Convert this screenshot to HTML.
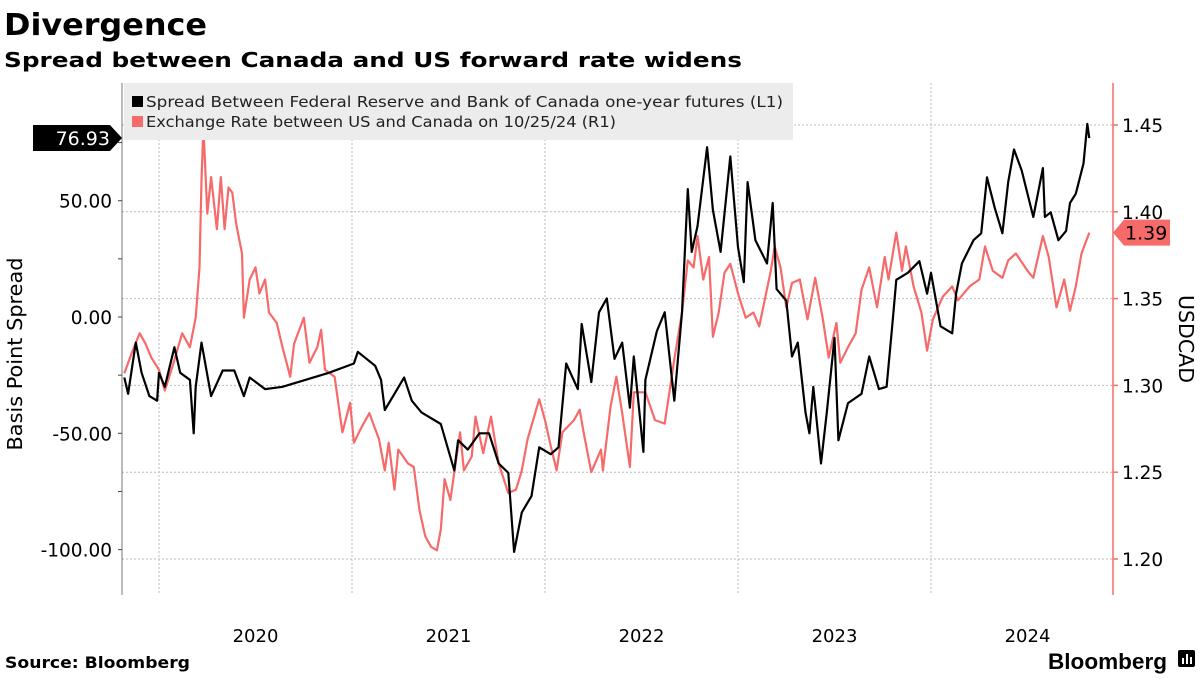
<!DOCTYPE html>
<html><head><meta charset="utf-8">
<style>
html,body{margin:0;padding:0;background:#fff;}
body{width:1200px;height:675px;overflow:hidden;font-family:"DejaVu Sans","Liberation Sans",sans-serif;}
</style></head>
<body>
<svg id="chart" width="1200" height="675" xmlns="http://www.w3.org/2000/svg" font-family="DejaVu Sans, Liberation Sans, sans-serif">
  <text x="4" y="35" font-size="30" font-weight="bold" fill="#000" textLength="203" lengthAdjust="spacingAndGlyphs">Divergence</text>
  <text x="4" y="67" font-size="20" font-weight="bold" fill="#000" textLength="738" lengthAdjust="spacingAndGlyphs">Spread between Canada and US forward rate widens</text>
  <g id="grid"></g>
  <g id="axes"></g>
  <g id="series"></g>
  <g>
    <rect x="124" y="83" width="669" height="57" fill="#ececec"/>
    <g>
      <rect x="132" y="96" width="11" height="11" fill="#000"/>
      <text x="146" y="107" font-size="15" fill="#222" textLength="637" lengthAdjust="spacingAndGlyphs">Spread Between Federal Reserve and Bank of Canada one-year futures (L1)</text>
    </g>
    <g>
      <rect x="132" y="116" width="11" height="11" fill="#f76a6a"/>
      <text x="146" y="127" font-size="15" fill="#222" textLength="470" lengthAdjust="spacingAndGlyphs">Exchange Rate between US and Canada on 10/25/24 (R1)</text>
    </g>
  </g>
  <text transform="translate(22,354) rotate(-90)" text-anchor="middle" font-size="20" fill="#000" textLength="193" lengthAdjust="spacingAndGlyphs">Basis Point Spread</text>
  <text transform="translate(1179,339) rotate(90)" text-anchor="middle" font-size="20" fill="#000" textLength="88" lengthAdjust="spacingAndGlyphs">USDCAD</text>
  <text x="5" y="668" font-size="16" font-weight="bold" fill="#000" textLength="185" lengthAdjust="spacingAndGlyphs">Source: Bloomberg</text>
  <text x="1048" y="669" font-size="22" font-weight="bold" fill="#000" font-family="Liberation Sans, sans-serif" textLength="119" lengthAdjust="spacingAndGlyphs">Bloomberg</text>
  <g>
    <rect x="1178" y="650" width="17" height="17" rx="2" fill="#000"/>
    <rect x="1182" y="658" width="2" height="6" fill="#fff"/>
    <rect x="1186" y="654" width="2" height="10" fill="#fff"/>
    <rect x="1190" y="657" width="2" height="7" fill="#fff"/>
  </g>
</svg>
<script>
const spreadDates = [2019.82,2019.84,2019.88,2019.91,2019.95,2019.99,2020.00,2020.03,2020.08,2020.11,2020.16,2020.18,2020.19,2020.22,2020.27,2020.33,2020.39,2020.44,2020.47,2020.55,2020.64,2020.76,2020.88,2021.01,2021.03,2021.12,2021.15,2021.17,2021.22,2021.27,2021.31,2021.36,2021.46,2021.53,2021.55,2021.60,2021.66,2021.71,2021.76,2021.81,2021.84,2021.88,2021.93,2021.97,2022.03,2022.07,2022.11,2022.17,2022.19,2022.24,2022.28,2022.32,2022.36,2022.40,2022.44,2022.46,2022.51,2022.52,2022.58,2022.62,2022.67,2022.71,2022.74,2022.76,2022.79,2022.84,2022.87,2022.91,2022.96,2023.00,2023.03,2023.05,2023.09,2023.15,2023.18,2023.20,2023.25,2023.28,2023.31,2023.35,2023.37,2023.39,2023.43,2023.46,2023.50,2023.52,2023.57,2023.64,2023.68,2023.73,2023.77,2023.80,2023.82,2023.88,2023.94,2023.98,2024.00,2024.05,2024.11,2024.13,2024.16,2024.22,2024.26,2024.29,2024.33,2024.37,2024.40,2024.43,2024.47,2024.53,2024.58,2024.59,2024.62,2024.66,2024.70,2024.72,2024.75,2024.79,2024.81,2024.82];
const spreadValues = [-26,-33,-11,-24,-34,-36,-24,-30,-13,-24,-27,-50,-30,-11,-34,-23,-23,-34,-26,-31,-30,-27,-24,-20,-15,-21,-27,-40,-33,-26,-36,-41,-46,-66,-53,-57,-50,-50,-63,-67,-101,-84,-77,-56,-59,-56,-20,-31,-3,-28,2,8,-18,-11,-39,-17,-58,-27,-6,2,-36,2,55,28,39,73,46,28,69,30,15,58,33,23,49,12,7,-17,-11,-41,-50,-30,-63,-41,-9,-53,-37,-33,-17,-31,-30,-3,16,19,24,10,19,-4,-7,10,23,33,36,60,47,36,58,72,63,43,64,43,45,33,37,49,53,66,83,76.93];
const fxDates = [2019.82,2019.86,2019.90,2019.93,2019.96,2020.00,2020.03,2020.07,2020.12,2020.16,2020.19,2020.21,2020.22,2020.23,2020.25,2020.27,2020.30,2020.32,2020.34,2020.36,2020.38,2020.40,2020.43,2020.44,2020.47,2020.50,2020.52,2020.55,2020.57,2020.61,2020.64,2020.68,2020.70,2020.75,2020.78,2020.82,2020.84,2020.86,2020.91,2020.95,2020.99,2021.01,2021.05,2021.09,2021.14,2021.17,2021.19,2021.22,2021.24,2021.29,2021.32,2021.35,2021.38,2021.41,2021.44,2021.46,2021.48,2021.51,2021.53,2021.56,2021.58,2021.62,2021.64,2021.68,2021.72,2021.76,2021.81,2021.85,2021.88,2021.91,2021.97,2022.00,2022.03,2022.06,2022.09,2022.15,2022.18,2022.20,2022.24,2022.29,2022.30,2022.34,2022.37,2022.40,2022.44,2022.46,2022.52,2022.57,2022.62,2022.67,2022.71,2022.74,2022.77,2022.79,2022.82,2022.85,2022.87,2022.90,2022.93,2022.96,2023.00,2023.04,2023.08,2023.11,2023.17,2023.19,2023.22,2023.25,2023.28,2023.32,2023.36,2023.40,2023.44,2023.47,2023.51,2023.53,2023.57,2023.61,2023.64,2023.68,2023.72,2023.76,2023.78,2023.82,2023.85,2023.87,2023.91,2023.95,2023.98,2024.01,2024.06,2024.11,2024.14,2024.20,2024.25,2024.28,2024.32,2024.37,2024.40,2024.44,2024.50,2024.53,2024.58,2024.61,2024.65,2024.69,2024.72,2024.75,2024.78,2024.82];
const fxValues = [1.307,1.319,1.330,1.324,1.316,1.309,1.297,1.311,1.330,1.322,1.339,1.368,1.418,1.449,1.399,1.420,1.390,1.420,1.390,1.414,1.411,1.393,1.376,1.339,1.361,1.368,1.353,1.361,1.342,1.336,1.322,1.305,1.324,1.339,1.313,1.322,1.332,1.309,1.305,1.273,1.290,1.267,1.276,1.284,1.269,1.251,1.267,1.240,1.263,1.255,1.253,1.228,1.213,1.207,1.205,1.217,1.246,1.234,1.250,1.273,1.251,1.259,1.282,1.261,1.282,1.255,1.238,1.240,1.251,1.269,1.292,1.280,1.265,1.251,1.273,1.280,1.286,1.273,1.250,1.263,1.251,1.288,1.305,1.284,1.253,1.296,1.296,1.280,1.278,1.315,1.342,1.372,1.368,1.386,1.361,1.374,1.328,1.342,1.365,1.370,1.353,1.339,1.342,1.334,1.366,1.380,1.368,1.345,1.359,1.361,1.338,1.362,1.338,1.316,1.336,1.313,1.322,1.330,1.355,1.368,1.345,1.374,1.361,1.388,1.366,1.380,1.357,1.342,1.320,1.338,1.351,1.357,1.349,1.357,1.361,1.380,1.366,1.362,1.372,1.376,1.366,1.362,1.386,1.374,1.345,1.361,1.343,1.357,1.376,1.388];
const leftTicks = [50, 0, -50, -100];
const leftTickLabels = ["50.00","0.00","-50.00","-100.00"];
const rightTicks = [1.45,1.40,1.35,1.30,1.25,1.20];
const rightTickLabels = ["1.45","1.40","1.35","1.30","1.25","1.20"];
const yearBounds = [2020,2021,2022,2023,2024];
const yearLabels = ["2020","2021","2022","2023","2024"];
const lastSpreadLabel = "76.93";
const lastFxLabel = "1.39";

const NS = "http://www.w3.org/2000/svg";
const X0 = 122, X1 = 1113, YT = 83, YB = 595;
function xScale(t){ return 159 + (t - 2020) * 193; }
function yLeft(v){ return 317 - v * (116.3/50); }
function yRight(v){ return 559 - (v - 1.20) * (86.8/0.05); }
function mk(tag, attrs, parent){
  const el = document.createElementNS(NS, tag);
  for (const k in attrs) el.setAttribute(k, attrs[k]);
  parent.appendChild(el);
  return el;
}
const grid = document.getElementById('grid');
const axes = document.getElementById('axes');
const series = document.getElementById('series');

rightTicks.forEach((v) => {
  const y = yRight(v);
  const l = mk('line', {x1:X0, x2:X1, y1:y, y2:y, stroke:'#bbb', 'stroke-width':1, 'stroke-dasharray':'2,2'}, grid);
  
  
});
yearBounds.forEach((t) => {
  const x = xScale(t);
  const l = mk('line', {x1:x, x2:x, y1:YT, y2:YB, stroke:'#bbb', 'stroke-width':1, 'stroke-dasharray':'2,2'}, grid);
  
  
});
yearBounds.forEach((t, i) => {
  const tx = mk('text', {x:xScale(t + 0.5), y:642, 'text-anchor':'middle', 'font-size':18, fill:'#000'}, axes);
  tx.textContent = yearLabels[i];
  
  
});
const la = mk('line', {x1:X0, x2:X0, y1:YT, y2:YB, stroke:'#777', 'stroke-width':1}, axes);


for (let v = 75; v >= -100; v -= 25) {
  const y = yLeft(v);
  const tk = mk('line', {x1:X0-4, x2:X0, y1:y, y2:y, stroke:'#444', 'stroke-width':1}, axes);
  
  
}
leftTicks.forEach((v, i) => {
  const tx = mk('text', {x:112, y:yLeft(v)+7, 'text-anchor':'end', 'font-size':18.5, fill:'#000'}, axes);
  tx.textContent = leftTickLabels[i];
  
  
});
const ra = mk('line', {x1:X1, x2:X1, y1:YT, y2:YB, stroke:'#f76a6a', 'stroke-width':1.5}, axes);


rightTicks.forEach((v, i) => {
  const y = yRight(v);
  const tk = mk('line', {x1:X1, x2:X1+5, y1:y, y2:y, stroke:'#f76a6a', 'stroke-width':1.5}, axes);
  
  
  const tx = mk('text', {x:1122, y:y+7, 'font-size':18.5, fill:'#000'}, axes);
  tx.textContent = rightTickLabels[i];
  
  
});
function pathFrom(dates, vals, ys){
  return dates.map((t, i) => (i ? 'L' : 'M') + xScale(t).toFixed(1) + ',' + ys(vals[i]).toFixed(1)).join(' ');
}
const fxLine = mk('path', {d:pathFrom(fxDates, fxValues, yRight), fill:'none', stroke:'#f76a6a', 'stroke-width':2.2, 'stroke-linejoin':'round'}, series);


const spLine = mk('path', {d:pathFrom(spreadDates, spreadValues, yLeft), fill:'none', stroke:'#000', 'stroke-width':2.2, 'stroke-linejoin':'round'}, series);



const ly = yLeft(spreadValues[spreadValues.length-1]);
const lb = mk('path', {d:`M33,${ly-13} L110,${ly-13} L122,${ly} L110,${ly+13} L33,${ly+13} Z`, fill:'#000'}, axes);


const lbt = mk('text', {x:110, y:ly+7, 'text-anchor':'end', 'font-size':19, fill:'#fff'}, axes);
lbt.textContent = lastSpreadLabel;


const ry = yRight(fxValues[fxValues.length-1]);
const rb = mk('path', {d:`M1113,${ry} L1124,${ry-13} L1170,${ry-13} L1170,${ry+13} L1124,${ry+13} Z`, fill:'#f76a6a'}, axes);


const rbt = mk('text', {x:1125, y:ry+7, 'font-size':19, fill:'#000'}, axes);
rbt.textContent = lastFxLabel;


</script>
</body></html>
